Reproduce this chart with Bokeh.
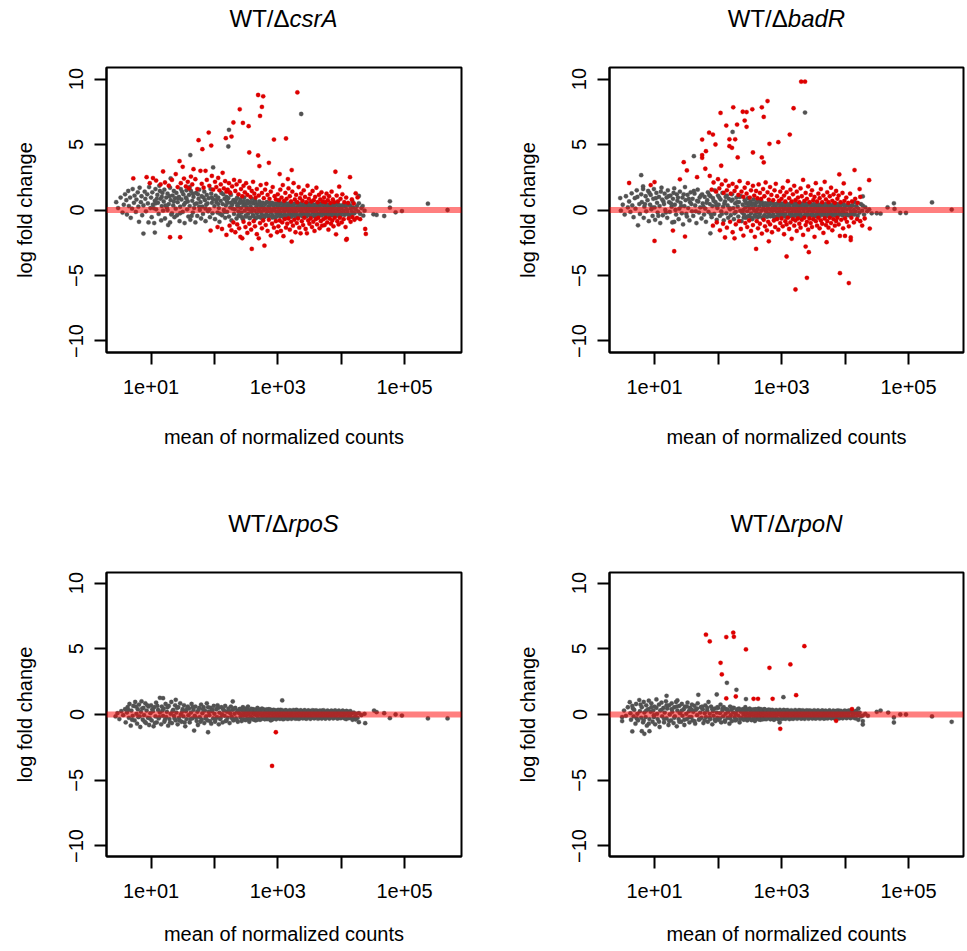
from bokeh.plotting import figure
from bokeh.models import Range1d, FixedTicker, Span, Div
from bokeh.layouts import column, row
from bokeh.embed import file_html
from bokeh.resources import INLINE

# ---------------- data: (log10 mean of normalized counts, log fold change) ----------------
csra_nonsig = [
    (0.45,0.60),(0.48,0.15),(0.52,0.95),(0.55,-0.20),(0.57,0.40),(0.59,1.20),
    (0.61,0.75),(0.62,-0.35),(0.64,1.45),(0.65,0.30),(0.67,0.95),(0.68,-0.60),(0.70,0.10),(0.71,1.60),(0.73,0.55),(0.74,1.10),(0.76,-0.15),(0.77,0.80),(0.79,1.35),
    (0.80,0.25),(0.81,-0.90),(0.82,1.70),(0.84,0.60),(0.85,1.05),(0.86,-0.40),(0.88,-1.80),(0.88,0.35),(0.90,1.40),(0.91,0.85),(0.92,-0.10),(0.94,1.20),(0.95,0.50),(0.96,-0.95),(0.97,1.75),(0.99,0.15),
    (1.00,0.95),(1.01,-0.55),(1.02,1.35),(1.03,0.40),(1.05,-1.00),(1.06,0.70),(1.06,-1.72),(1.07,1.60),(1.08,0.05),(1.10,1.15),(1.11,0.55),(1.12,-0.30),(1.13,1.85),(1.15,0.85),(1.16,-0.80),(1.17,0.30),(1.18,1.30),(1.19,-0.05),
    (1.20,0.65),(1.21,1.55),(1.22,-0.65),(1.24,0.95),(1.25,0.20),(1.26,1.25),(1.27,-1.15),(1.28,0.45),(1.30,1.70),(1.30,-0.95),(1.31,0.75),(1.31,2.41),(1.33,-0.25),(1.34,1.10),(1.35,0.35),(1.36,1.45),(1.37,-0.55),(1.38,0.90),(1.39,0.10),
    (1.40,1.30),(1.41,-0.40),(1.42,0.60),(1.44,1.00),(1.45,-0.85),(1.46,0.25),(1.47,1.60),(1.48,0.80),(1.50,-0.15),(1.51,1.20),(1.52,0.40),(1.53,-1.00),(1.55,0.95),(1.56,1.50),(1.57,0.05),(1.58,0.65),(1.59,-0.50),
    (1.60,1.15),(1.61,0.30),(1.62,-0.75),(1.62,4.19),(1.63,1.45),(1.65,0.70),(1.66,-0.20),(1.67,1.00),(1.68,0.15),(1.70,-0.95),(1.71,1.30),(1.72,0.50),(1.73,-0.45),(1.75,0.85),(1.76,1.55),(1.77,0.00),(1.78,0.60),(1.79,-0.65),
    (1.80,1.05),(1.81,0.25),(1.82,-0.30),(1.84,1.40),(1.85,0.75),(1.86,-0.85),(1.87,0.40),(1.88,1.15),(1.90,-0.10),(1.91,0.90),(1.92,0.05),(1.93,-0.55),(1.95,1.25),(1.96,0.55),(1.97,-0.25),(1.98,0.80),(1.98,3.25),
    (2.00,0.30),(2.01,-0.70),(2.02,1.10),(2.03,0.60),(2.05,-0.20),(2.06,0.95),(2.07,0.15),(2.08,-0.90),(2.10,0.70),(2.11,1.30),(2.12,-0.40),(2.13,0.45),(2.15,0.00),(2.16,0.85),(2.17,-0.60),(2.18,0.35),(2.19,1.00),
    (2.20,-0.15),(2.21,0.55),(2.22,0.90),(2.22,4.85),(2.23,-0.50),(2.23,6.12),(2.25,0.20),(2.26,1.15),(2.27,-0.80),(2.28,0.40),(2.30,0.75),(2.31,-0.30),(2.32,0.05),(2.33,0.60),(2.35,-0.65),(2.36,0.95),(2.37,0.25),(2.38,-0.10),(2.39,0.50),
    (2.40,-0.45),(2.41,0.80),(2.42,0.15),(2.43,-0.20),(2.44,0.55),(2.45,-0.70),(2.46,0.35),(2.47,0.95),(2.48,-0.05),(2.49,0.45),(2.50,-0.50),(2.51,0.20),(2.52,0.70),(2.53,-0.30),(2.54,0.05),(2.55,0.60),(2.56,-0.60),(2.57,0.30),(2.58,-0.15),(2.59,0.85),
    (2.60,0.10),(2.61,-0.40),(2.62,0.50),(2.63,-0.05),(2.64,0.75),(2.65,-0.65),(2.66,0.25),(2.67,-0.25),(2.68,0.40),(2.69,0.00),(2.70,-0.50),(2.71,0.65),(2.72,0.15),(2.73,-0.15),(2.74,0.35),(2.75,-0.35),(2.76,0.55),(2.77,-0.05),(2.78,0.20),(2.79,-0.55),
    (2.80,0.45),(2.81,0.05),(2.82,-0.30),(2.83,0.60),(2.84,-0.10),(2.85,0.25),(2.86,-0.45),(2.87,0.15),(2.88,0.40),(2.89,-0.20),(2.90,0.00),(2.91,0.55),(2.92,-0.40),(2.93,0.30),(2.94,-0.05),(2.95,0.10),(2.96,-0.60),(2.97,0.45),(2.98,-0.25),(2.99,0.20),
    (3.00,-0.10),(3.01,0.35),(3.02,-0.35),(3.03,0.05),(3.04,0.50),(3.05,-0.20),(3.06,0.20),(3.07,-0.45),(3.08,0.10),(3.09,0.40),(3.10,-0.05),(3.11,-0.30),(3.12,0.25),(3.13,0.00),(3.14,-0.50),(3.15,0.45),(3.16,0.15),(3.17,-0.15),(3.18,0.30),(3.19,-0.25),
    (3.20,0.05),(3.21,0.40),(3.22,-0.40),(3.23,0.15),(3.24,-0.10),(3.25,0.30),(3.26,-0.30),(3.27,0.00),(3.28,0.50),(3.29,-0.20),(3.30,0.20),(3.31,-0.45),(3.32,0.10),(3.33,0.35),(3.34,-0.05),(3.35,-0.35),(3.36,0.25),(3.37,0.05),(3.37,7.33),(3.38,-0.15),(3.39,0.40),
    (3.40,-0.25),(3.41,0.10),(3.42,0.35),(3.43,-0.40),(3.44,0.00),(3.45,0.20),(3.46,-0.15),(3.47,0.45),(3.48,-0.30),(3.49,0.15),(3.50,-0.05),(3.51,0.30),(3.52,-0.45),(3.53,0.05),(3.54,0.25),(3.55,-0.20),(3.56,0.40),(3.57,-0.10),(3.58,0.10),(3.59,-0.35),
    (3.60,0.20),(3.61,-0.05),(3.62,0.35),(3.63,-0.30),(3.64,0.05),(3.65,0.25),(3.66,-0.40),(3.67,0.10),(3.68,-0.15),(3.69,0.40),(3.70,-0.25),(3.71,0.00),(3.72,0.30),(3.73,-0.10),(3.74,0.15),(3.75,-0.35),(3.76,0.20),(3.77,-0.05),(3.78,0.35),(3.79,-0.20),
    (3.80,0.05),(3.81,-0.30),(3.82,0.25),(3.83,0.00),(3.84,-0.15),(3.85,0.40),(3.86,-0.40),(3.87,0.15),(3.88,-0.05),(3.89,0.30),(3.90,-0.25),(3.92,0.10),(3.93,0.45),(3.94,-0.10),(3.96,0.20),(3.97,-0.35),(3.98,0.05),(3.99,0.30),
    (4.00,-0.20),(4.01,0.15),(4.03,0.35),(4.04,-0.05),(4.06,-0.30),(4.07,0.25),(4.09,0.05),(4.10,-0.15),(4.12,0.40),(4.13,-0.40),(4.15,0.10),(4.17,-0.10),(4.18,0.63),(4.19,0.20),
    (4.21,-0.25),(4.23,0.05),(4.25,0.30),(4.27,-0.13),(4.28,1.07),(4.28,0.51),(4.30,-0.30),(4.32,0.15),(4.34,0.30),(4.35,-0.43),(4.37,-0.05),
    (4.51,-0.33),(4.56,-0.38),(4.68,-0.46),(4.77,0.66),(4.77,0.18),(4.86,-0.18),(4.96,-0.08),(5.37,0.48),(5.68,0.00),
    (1.04,0.15),(1.09,0.85),(1.14,1.45),(1.23,0.35),(1.29,1.05),(1.32,-0.35),(1.43,0.90),(1.49,1.40),(1.54,0.55),(1.61,1.75),(1.64,-0.45),(1.69,0.45),(1.74,1.20),(1.83,0.95),(1.89,0.50),(1.94,1.60),(2.04,0.80),(2.09,-0.30),(2.14,1.20),(2.20,0.65),(2.24,1.35),(2.29,0.10),(2.34,0.80),(2.38,-0.40),
    (1.07,0.50),(1.17,1.00),(1.26,0.00),(1.36,0.65),(1.46,-0.25),(1.56,0.85),(1.66,1.25),(1.76,0.25),(1.86,0.10),(1.96,0.95),(2.06,0.45),(2.16,-0.15),(2.26,0.55),(2.36,0.35),
    (2.405,0.62),(2.435,-0.55),(2.465,0.68),(2.495,-0.42),(2.525,0.50),(2.555,-0.62),(2.585,0.58),(2.615,-0.48),(2.645,0.62),(2.675,-0.55),(2.705,0.45),(2.735,-0.60),(2.765,0.52),(2.795,-0.45),(2.825,0.58),(2.855,-0.50),(2.885,0.55),(2.915,-0.58),(2.945,0.48),(2.975,-0.52),
    (3.005,0.55),(3.035,-0.50),(3.065,0.48),(3.095,-0.55),(3.125,0.52),(3.155,-0.42),(3.185,0.50),(3.215,-0.52),(3.245,0.45),(3.275,-0.50),(3.305,0.52),(3.335,-0.45),(3.365,0.48),(3.395,-0.50),(3.425,0.42),(3.455,-0.48),(3.485,0.50),(3.515,-0.42),(3.545,0.45),(3.575,-0.48),
    (3.605,0.42),(3.635,-0.45),(3.665,0.48),(3.695,-0.40),(3.725,0.45),(3.755,-0.45),(3.785,0.40),(3.815,-0.42),(3.845,0.45),(3.875,-0.38),(3.905,0.40),(3.935,-0.42),(3.965,0.38),(3.995,-0.40),(4.025,0.35),(4.055,-0.38),(4.085,0.40),(4.115,-0.35),(4.145,0.32),(4.175,-0.30),
]
csra_sig = [
    (0.72,2.41),(0.93,2.51),(1.03,2.44),(0.98,2.05),(1.08,2.25),(1.15,1.95),(1.19,2.94),(1.22,2.10),(1.28,1.85),(1.39,2.74),(1.33,2.30),(1.45,3.73),(1.50,3.30),(1.42,1.75),(1.47,2.05),
    (1.52,2.40),(1.55,1.80),(1.58,2.15),(1.60,1.65),(1.63,2.55),(1.67,3.12),(1.65,1.95),(1.70,2.35),(1.73,1.60),(1.75,5.33),(1.78,2.99),(1.81,4.64),(1.80,2.00),(1.83,1.70),(1.86,2.99),(1.88,2.30),(1.91,5.91),(1.92,1.85),(1.95,4.92),(1.96,2.60),(1.98,1.55),(2.01,2.15),(2.03,1.75),(2.06,2.45),(2.08,1.50),(2.10,1.95),(2.13,2.84),(2.15,1.65),(2.17,2.20),(2.19,1.40),
    (1.30,-2.08),(1.46,-2.08),(1.94,-1.57),(2.05,-1.30),(2.12,-1.45),
    (2.18,5.48),(2.27,5.61),(2.30,6.68),(2.40,7.69),(2.45,6.65),(2.54,6.40),(2.55,4.39),(2.69,4.16),(2.69,8.78),(2.77,8.68),(2.75,7.87),(2.72,7.18),(2.71,3.35),(2.86,3.60),(2.94,5.38),
    (2.21,1.55),(2.23,2.05),(2.25,1.30),(2.28,1.80),(2.31,2.30),(2.33,1.45),(2.35,1.95),(2.38,1.20),(2.40,2.20),(2.42,1.60),(2.44,1.05),(2.46,1.85),(2.48,1.35),(2.50,2.05),(2.52,1.15),(2.55,1.70),(2.57,1.00),(2.59,1.45),(2.61,2.15),(2.63,1.25),(2.65,0.95),(2.67,1.60),(2.70,1.10),(2.73,1.90),(2.75,1.30),(2.78,0.90),(2.80,1.55),(2.82,2.00),(2.84,1.15),(2.87,0.85),(2.89,1.40),(2.92,1.75),(2.95,1.05),(2.97,0.80),
    (2.19,-1.90),(2.24,-1.20),(2.27,-1.55),(2.30,-0.95),(2.33,-1.70),(2.36,-1.10),(2.39,-1.40),(2.41,-2.05),(2.44,-2.16),(2.46,-0.90),(2.49,-1.30),(2.52,-1.75),(2.55,-1.05),(2.58,-1.50),(2.59,-2.97),(2.62,-0.85),(2.64,-1.25),(2.67,-1.85),(2.70,-2.16),(2.72,-1.00),(2.75,-1.40),(2.77,-0.80),(2.79,-2.72),(2.81,-1.15),(2.84,-1.60),(2.86,-0.75),(2.89,-1.95),(2.91,-1.05),(2.94,-1.35),(2.97,-0.85),(2.99,-1.70),
    (3.03,2.74),(3.13,5.46),(3.16,2.36),(3.22,3.05),(3.31,8.98),
    (3.00,1.20),(3.02,0.75),(3.04,1.55),(3.06,0.95),(3.08,1.90),(3.10,0.70),(3.12,1.30),(3.14,0.85),(3.17,1.65),(3.19,1.05),(3.21,0.65),(3.23,1.40),(3.25,2.05),(3.27,0.80),(3.29,1.15),(3.31,0.60),(3.33,1.75),(3.35,0.90),(3.37,1.25),(3.39,0.70),(3.41,1.50),(3.43,1.00),(3.45,0.60),(3.47,1.85),(3.49,0.85),(3.51,1.20),(3.53,0.65),(3.55,1.45),(3.57,0.75),(3.59,1.00),(3.61,1.70),(3.63,0.60),(3.65,1.15),(3.67,0.80),(3.69,1.35),(3.71,0.65),
    (3.01,-1.25),(3.03,-0.80),(3.05,-1.60),(3.07,-0.95),(3.09,-2.00),(3.11,-0.70),(3.13,-1.35),(3.15,-1.05),(3.17,-0.65),(3.19,-1.50),(3.21,-0.90),(3.22,-2.41),(3.24,-1.20),(3.26,-0.75),(3.28,-1.70),(3.30,-1.00),(3.32,-0.65),(3.34,-1.35),(3.36,-1.78),(3.38,-0.85),(3.40,-1.15),(3.42,-0.60),(3.44,-1.45),(3.46,-1.78),(3.48,-0.80),(3.50,-1.05),(3.52,-0.65),(3.54,-1.30),(3.56,-0.90),(3.58,-1.60),(3.60,-0.70),(3.62,-1.10),(3.64,-0.60),(3.66,-1.40),(3.68,-0.85),(3.70,-1.20),
    (3.73,0.95),(3.75,0.60),(3.77,1.25),(3.79,0.75),(3.81,1.05),(3.83,0.55),(3.85,1.40),(3.87,0.80),(3.89,0.60),(3.91,2.92),(3.93,1.10),(3.95,0.65),(3.97,1.78),(3.99,0.85),(4.02,1.20),(4.05,0.60),(4.08,0.95),(4.11,0.55),(4.14,2.51),(4.17,0.80),(4.20,0.50),(4.23,1.27),(4.26,0.96),
    (3.72,-0.70),(3.74,-1.15),(3.76,-0.60),(3.78,-0.95),(3.80,-1.50),(3.82,-0.65),(3.84,-1.05),(3.86,-0.80),(3.88,-1.25),(3.90,-0.60),(3.92,-1.86),(3.94,-0.85),(3.96,-1.10),(3.98,-0.60),(4.01,-0.95),(4.04,-0.70),(4.07,-1.30),(4.08,-2.28),(4.09,-2.21),(4.12,-0.65),(4.15,-0.90),(4.18,-0.55),(4.21,-0.75),(4.25,-0.60),(4.30,-0.70),(4.38,-1.45),(4.39,-1.83),
]

badr_nonsig = [
    (0.46,0.91),(0.47,-0.05),(0.50,0.40),(0.53,-0.35),(0.55,1.05),(0.58,0.20),
    (0.60,0.65),(0.62,-0.15),(0.64,1.27),(0.65,0.35),(0.67,-0.55),(0.69,0.90),(0.70,0.10),(0.72,1.50),(0.73,1.00),(0.74,-1.17),(0.76,0.45),(0.77,-0.30),(0.79,2.66),(0.79,1.20),
    (0.80,0.60),(0.82,1.80),(0.82,1.60),(0.83,-0.60),(0.84,0.25),(0.86,1.05),(0.87,-0.10),(0.89,0.75),(0.90,1.45),(0.91,-0.85),(0.93,0.40),(0.94,1.15),(0.95,0.05),(0.97,-0.45),(0.98,0.85),(0.99,1.60),
    (1.00,0.20),(1.01,-0.75),(1.03,1.30),(1.04,0.55),(1.05,-0.20),(1.07,1.00),(1.08,0.30),(1.09,-1.00),(1.11,1.70),(1.12,0.80),(1.13,-0.40),(1.15,0.45),(1.16,1.25),(1.17,0.00),(1.19,0.95),
    (1.20,-0.60),(1.21,1.50),(1.23,0.60),(1.24,-0.15),(1.25,1.10),(1.27,0.25),(1.28,-0.95),(1.29,0.85),(1.31,-0.91),(1.31,1.65),(1.32,0.40),(1.34,-0.35),(1.35,1.20),(1.36,0.70),(1.38,-0.70),(1.39,0.10),
    (1.40,1.40),(1.41,0.55),(1.43,-0.25),(1.44,0.95),(1.45,-1.10),(1.47,0.30),(1.48,1.75),(1.49,0.75),(1.51,-0.50),(1.52,1.15),(1.53,0.15),(1.55,-0.80),(1.56,0.60),(1.57,1.35),(1.59,-0.10),
    (1.60,0.85),(1.61,-0.45),(1.62,4.11),(1.63,1.25),(1.64,0.35),(1.66,-1.00),(1.67,0.70),(1.68,1.55),(1.70,-0.20),(1.71,0.95),(1.72,0.20),(1.74,-0.65),(1.75,1.20),(1.76,0.50),(1.78,-0.35),(1.79,1.00),
    (1.80,0.10),(1.81,-0.90),(1.83,0.75),(1.84,1.35),(1.85,-0.15),(1.87,0.45),(1.88,-1.78),(1.88,1.05),(1.90,-0.55),(1.91,0.30),(1.92,0.90),(1.94,-0.30),(1.95,1.50),(1.96,0.60),(1.98,-0.75),(1.99,0.15),
    (2.00,1.10),(2.01,0.40),(2.03,-0.45),(2.04,0.80),(2.05,-0.10),(2.07,1.30),(2.08,0.25),(2.09,-0.80),(2.11,0.65),(2.12,1.00),(2.13,-0.25),(2.15,0.35),(2.16,-0.60),(2.17,0.85),(2.19,0.05),
    (2.20,-0.40),(2.21,0.70),(2.22,1.20),(2.23,5.96),(2.24,0.15),(2.25,-0.70),(2.27,0.50),(2.28,-0.15),(2.29,0.95),(2.31,0.25),(2.32,-0.50),(2.33,0.60),(2.35,-0.05),(2.36,1.05),(2.37,-0.85),(2.39,0.40),
    (2.40,0.00),(2.41,-0.35),(2.42,0.75),(2.43,0.20),(2.44,-0.60),(2.45,0.50),(2.46,-0.10),(2.47,0.90),(2.48,0.30),(2.49,-0.45),(2.50,0.10),(2.51,0.65),(2.52,-0.25),(2.53,0.40),(2.54,-0.70),(2.55,0.15),(2.56,0.80),(2.57,-0.05),(2.58,-0.40),(2.59,0.35),
    (2.60,0.55),(2.61,-0.20),(2.62,0.05),(2.63,-0.55),(2.64,0.70),(2.65,0.25),(2.66,-0.30),(2.67,0.45),(2.68,-0.05),(2.69,0.60),(2.70,-0.60),(2.71,0.15),(2.72,0.35),(2.73,-0.40),(2.74,0.00),(2.75,0.50),(2.76,-0.15),(2.77,0.30),(2.78,-0.50),(2.79,0.10),
    (2.80,-0.25),(2.81,0.40),(2.82,0.05),(2.83,-0.45),(2.84,0.55),(2.85,-0.10),(2.86,0.20),(2.87,-0.35),(2.88,0.45),(2.89,0.00),(2.90,-0.55),(2.91,0.30),(2.92,0.10),(2.93,-0.20),(2.94,0.50),(2.95,-0.40),(2.96,0.15),(2.97,-0.05),(2.98,0.35),(2.99,-0.30),
    (3.00,0.20),(3.01,-0.15),(3.02,0.45),(3.03,-0.40),(3.04,0.05),(3.05,0.30),(3.06,-0.25),(3.07,0.10),(3.08,-0.50),(3.09,0.40),(3.10,0.00),(3.11,-0.10),(3.12,0.25),(3.13,-0.35),(3.14,0.15),(3.15,0.50),(3.16,-0.20),(3.17,0.05),(3.18,-0.45),(3.19,0.30),
    (3.20,-0.05),(3.21,0.35),(3.22,-0.30),(3.23,0.10),(3.24,0.45),(3.25,-0.15),(3.26,0.20),(3.27,-0.40),(3.28,0.00),(3.29,0.30),(3.30,-0.25),(3.31,0.15),(3.32,-0.50),(3.33,0.40),(3.34,0.05),(3.35,-0.10),(3.36,0.25),(3.37,7.44),(3.38,-0.35),(3.39,0.10),
    (3.40,0.35),(3.41,-0.20),(3.42,0.05),(3.43,0.45),(3.44,-0.40),(3.45,0.15),(3.46,-0.05),(3.47,0.30),(3.48,-0.30),(3.49,0.00),(3.50,0.40),(3.51,-0.15),(3.52,0.20),(3.53,-0.45),(3.54,0.10),(3.55,0.35),(3.56,-0.25),(3.57,0.05),(3.58,-0.10),(3.59,0.25),
    (3.60,-0.35),(3.61,0.15),(3.62,0.40),(3.63,-0.10),(3.64,0.20),(3.65,-0.30),(3.66,0.05),(3.67,0.35),(3.68,-0.20),(3.69,0.10),(3.70,-0.45),(3.71,0.25),(3.72,0.00),(3.73,-0.15),(3.74,0.45),(3.75,-0.30),(3.76,0.15),(3.77,-0.05),(3.78,0.30),(3.79,-0.25),
    (3.80,0.10),(3.81,0.35),(3.82,-0.35),(3.83,0.00),(3.84,0.20),(3.85,-0.15),(3.86,0.40),(3.87,-0.40),(3.88,0.05),(3.89,0.25),(3.90,-0.10),(3.92,0.30),(3.93,-0.30),(3.94,0.15),(3.96,-0.05),(3.97,0.45),(3.98,-0.20),(3.99,0.10),
    (4.00,0.30),(4.02,-0.25),(4.03,0.05),(4.05,0.40),(4.06,-0.40),(4.08,0.15),(4.09,-0.10),(4.11,0.35),(4.12,-0.30),(4.14,0.00),(4.15,0.60),(4.17,-0.15),(4.18,0.25),(4.20,-0.45),
    (4.21,0.10),(4.23,-0.20),(4.25,0.45),(4.27,-0.05),(4.28,1.04),(4.28,0.33),(4.30,-0.35),(4.32,0.20),(4.35,-0.10),(4.38,0.05),(4.42,-0.25),
    (4.50,-0.25),(4.56,-0.28),(4.67,0.20),(4.77,0.51),(4.78,0.08),(4.87,-0.23),(4.96,-0.23),(5.37,0.58),(5.68,0.03),
    (0.85,0.45),(0.92,1.30),(0.96,0.20),(1.02,0.90),(1.06,-0.45),(1.10,1.40),(1.14,0.65),(1.18,-0.20),(1.22,1.05),(1.26,0.50),(1.30,1.30),(1.33,0.00),(1.37,0.95),(1.42,0.30),(1.46,1.20),(1.50,-0.30),(1.54,0.85),(1.58,0.45),(1.62,1.45),(1.65,-0.10),
    (1.69,0.65),(1.73,1.10),(1.77,0.25),(1.82,0.55),(1.86,1.15),(1.89,-0.35),(1.93,0.70),(1.97,0.35),(2.02,0.95),(2.06,-0.30),(2.10,0.50),(2.14,1.10),(2.18,0.15),(2.23,0.80),(2.26,-0.25),(2.30,0.60),(2.34,1.00),(2.38,-0.20),
    (2.405,-0.58),(2.435,0.62),(2.465,-0.50),(2.495,0.55),(2.525,-0.60),(2.555,0.48),(2.585,-0.52),(2.615,0.65),(2.645,-0.45),(2.675,0.52),(2.705,-0.58),(2.735,0.48),(2.765,-0.50),(2.795,0.55),(2.825,-0.48),(2.855,0.50),(2.885,-0.55),(2.915,0.45),(2.945,-0.50),(2.975,0.55),
    (3.005,-0.48),(3.035,0.50),(3.065,-0.52),(3.095,0.45),(3.125,-0.48),(3.155,0.52),(3.185,-0.45),(3.215,0.48),(3.245,-0.50),(3.275,0.45),(3.305,-0.48),(3.335,0.50),(3.365,-0.42),(3.395,0.48),(3.425,-0.45),(3.455,0.50),(3.485,-0.42),(3.515,0.45),(3.545,-0.48),(3.575,0.42),
    (3.605,-0.45),(3.635,0.48),(3.665,-0.40),(3.695,0.45),(3.725,-0.42),(3.755,0.40),(3.785,-0.45),(3.815,0.42),(3.845,-0.40),(3.875,0.45),(3.905,-0.38),(3.935,0.40),(3.965,-0.42),(3.995,0.38),(4.025,-0.40),(4.055,0.35),(4.085,-0.38),(4.115,0.32),(4.145,-0.35),(4.175,0.30),
]
badr_sig = [
    (3.31,9.80),(3.37,9.80),(2.78,8.32),(2.69,7.84),(2.72,7.11),(2.54,7.69),(2.24,7.84),(2.04,7.41),(2.39,7.50),(2.45,7.48),(2.42,6.83),(2.45,6.35),(2.30,6.52),(2.13,6.45),(1.86,5.90),(1.92,5.76),(1.75,5.38),(2.18,5.40),(2.27,5.40),(2.18,4.87),(2.22,4.75),(1.96,5.00),(1.81,4.49),(1.75,4.19),(1.75,3.98),(1.46,3.65),(1.51,3.02),(2.31,4.01),(2.55,4.39),(2.69,4.01),(2.72,3.63),(2.81,5.05),(2.95,5.18),(3.13,5.76),(3.19,7.77),(1.80,3.15),(2.05,3.38),(1.67,2.51),(1.40,2.34),(1.87,2.60),(3.91,2.72),(4.15,3.05),(3.98,2.03),(4.38,2.28),(4.23,1.60),(0.60,2.06),(1.00,2.13),(0.94,1.90),
    (3.22,-6.07),(3.40,-5.18),(4.06,-5.58),(3.92,-4.82),(3.08,-3.55),(3.38,-2.79),(3.43,-3.22),(2.60,-2.97),(1.31,-3.15),(1.00,-2.36),(1.48,-2.03),(1.29,-1.57),(3.71,-2.46),(4.09,-2.30),(4.09,-2.10),(4.00,-1.98),(3.92,-1.98),(4.27,-1.19),(4.39,-1.42),(2.80,-2.39),(2.11,-2.10),(2.26,-2.16),
    (1.90,1.55),(1.93,2.10),(1.97,1.40),(2.00,2.35),(2.02,1.65),(2.06,1.95),(2.09,1.30),(2.12,2.25),(2.14,1.50),(2.17,1.85),(2.20,1.25),(2.23,2.00),(2.26,1.45),(2.29,1.75),(2.32,1.15),(2.34,2.20),(2.37,1.40),(2.40,1.00),(2.42,1.70),(2.45,1.25),(2.47,2.05),(2.50,0.95),(2.52,1.50),(2.55,1.85),(2.57,1.10),(2.60,1.45),(2.62,0.90),(2.64,1.95),(2.66,1.30),(2.68,0.85),(2.71,1.60),(2.73,1.05),(2.75,2.10),(2.78,1.35),(2.80,0.80),(2.82,1.75),(2.84,1.15),(2.87,0.75),(2.89,1.50),(2.91,2.00),(2.93,1.05),(2.96,0.70),(2.98,1.40),
    (3.00,0.85),(3.02,1.70),(3.04,1.10),(3.06,0.65),(3.08,1.35),(3.10,2.20),(3.12,0.90),(3.14,1.55),(3.16,0.65),(3.18,1.20),(3.20,1.85),(3.22,0.75),(3.24,1.40),(3.26,0.95),(3.28,0.60),(3.30,1.65),(3.32,1.05),(3.34,2.30),(3.36,0.70),(3.38,1.30),(3.40,0.85),(3.42,1.80),(3.44,0.60),(3.46,1.15),(3.48,1.50),(3.50,0.75),(3.52,1.00),(3.54,2.05),(3.56,0.65),(3.58,1.25),(3.60,0.90),(3.62,1.60),(3.64,0.60),(3.66,1.10),(3.68,2.15),(3.70,0.80),(3.72,1.35),(3.74,0.60),(3.76,1.05),(3.78,1.70),(3.80,0.70),(3.82,1.20),(3.84,0.55),(3.86,1.45),(3.88,0.85),(3.90,1.10),(3.93,0.60),(3.96,1.30),(3.99,0.70),(4.02,0.95),(4.05,0.55),(4.08,1.25),(4.11,0.65),(4.16,0.85),(4.20,0.55),(4.24,1.00),
    (1.92,-1.20),(1.98,-0.95),(2.03,-1.55),(2.08,-1.05),(2.14,-1.35),(2.19,-0.90),(2.23,-1.70),(2.28,-1.10),(2.33,-0.85),(2.36,-1.45),(2.40,-1.95),(2.43,-1.00),(2.46,-1.30),(2.49,-0.80),(2.52,-1.60),(2.55,-1.15),(2.58,-2.05),(2.61,-0.85),(2.63,-1.40),(2.66,-1.05),(2.69,-1.80),(2.72,-0.75),(2.74,-1.25),(2.77,-1.55),(2.79,-0.90),(2.82,-1.10),(2.85,-1.70),(2.88,-0.80),(2.90,-1.30),(2.93,-0.70),(2.95,-1.50),(2.98,-1.00),
    (3.00,-0.65),(3.02,-1.25),(3.04,-1.85),(3.06,-0.85),(3.08,-1.10),(3.10,-0.60),(3.12,-1.45),(3.14,-0.95),(3.16,-2.20),(3.18,-0.70),(3.20,-1.20),(3.22,-0.80),(3.24,-1.60),(3.26,-0.65),(3.28,-1.05),(3.30,-1.35),(3.32,-0.75),(3.34,-1.90),(3.36,-0.60),(3.38,-1.15),(3.40,-0.90),(3.42,-1.50),(3.44,-0.65),(3.46,-1.00),(3.48,-1.30),(3.50,-0.70),(3.52,-2.05),(3.54,-0.85),(3.56,-1.20),(3.58,-0.60),(3.60,-1.40),(3.62,-0.80),(3.64,-1.05),(3.66,-1.75),(3.68,-0.65),(3.70,-1.15),(3.72,-0.85),(3.74,-1.35),(3.76,-0.60),(3.78,-1.00),(3.80,-1.55),(3.82,-0.70),(3.84,-1.20),(3.86,-0.85),(3.88,-0.60),(3.90,-1.10),(3.94,-0.75),(3.97,-1.40),(4.00,-0.65),(4.03,-0.90),(4.06,-1.25),(4.10,-0.60),(4.14,-0.95),(4.19,-0.70),(4.24,-0.85),(4.31,-0.65),
]

rpos_nonsig = [
    (0.44,-0.15),(0.47,0.10),(0.50,-0.35),(0.53,0.25),(0.56,-0.05),(0.59,0.40),
    (0.60,-0.60),(0.62,0.15),(0.63,0.55),(0.65,-0.25),(0.66,0.80),(0.68,-0.85),(0.69,0.30),(0.71,-0.10),(0.72,0.65),(0.74,-0.45),(0.75,0.95),(0.77,0.05),(0.78,-0.70),(0.79,0.40),
    (0.80,-0.20),(0.81,0.75),(0.83,-0.95),(0.84,0.20),(0.85,1.00),(0.87,-0.40),(0.88,0.50),(0.89,-0.05),(0.91,0.85),(0.92,-0.65),(0.93,0.30),(0.95,-0.25),(0.96,0.60),(0.97,-0.80),(0.99,0.10),
    (1.00,0.70),(1.01,-0.45),(1.03,0.25),(1.04,-0.90),(1.05,0.55),(1.07,-0.15),(1.08,0.90),(1.09,-0.60),(1.11,0.35),(1.12,-0.30),(1.14,1.27),(1.14,0.15),(1.16,-0.75),(1.17,0.60),(1.19,1.24),(1.19,-0.10),
    (1.20,0.45),(1.21,-0.55),(1.23,0.80),(1.24,-0.20),(1.25,0.20),(1.27,-0.85),(1.28,0.65),(1.29,-0.35),(1.31,0.05),(1.32,0.95),(1.33,-0.65),(1.35,0.35),(1.36,-0.10),(1.38,0.70),(1.39,1.12),(1.39,-0.45),
    (1.40,0.15),(1.42,-0.75),(1.43,0.55),(1.44,-0.25),(1.46,0.85),(1.47,0.00),(1.48,-0.55),(1.50,0.40),(1.51,-0.15),(1.52,0.70),(1.54,-0.90),(1.55,0.25),(1.56,-0.35),(1.58,0.60),(1.59,-0.05),
    (1.60,0.45),(1.61,-0.60),(1.63,0.15),(1.64,0.80),(1.65,-0.30),(1.67,0.35),(1.68,-1.22),(1.69,-0.10),(1.70,0.60),(1.72,-0.50),(1.73,0.20),(1.74,-0.80),(1.76,0.50),(1.77,-0.20),(1.79,0.75),
    (1.80,-0.40),(1.81,0.10),(1.83,0.55),(1.84,-0.65),(1.85,0.30),(1.87,-0.15),(1.88,0.85),(1.89,-0.45),(1.90,-1.35),(1.91,0.20),(1.92,-0.05),(1.94,0.50),(1.95,-0.70),(1.96,0.25),(1.98,-0.30),(1.99,0.65),
    (2.00,0.05),(2.01,-0.55),(2.03,0.40),(2.04,-0.20),(2.05,0.70),(2.07,-0.75),(2.08,0.15),(2.09,-0.35),(2.11,0.55),(2.12,0.00),(2.13,-0.60),(2.15,0.30),(2.16,-0.10),(2.17,0.65),(2.19,-0.45),
    (2.20,0.20),(2.21,-0.25),(2.22,0.45),(2.24,-0.65),(2.25,0.10),(2.26,0.60),(2.27,-0.15),(2.29,0.99),(2.29,0.35),(2.30,-0.45),(2.32,0.05),(2.33,0.50),(2.34,-0.30),(2.36,0.25),(2.37,-0.55),(2.39,0.10),
    (2.40,0.40),(2.41,-0.20),(2.42,0.00),(2.43,-0.50),(2.44,0.30),(2.45,0.55),(2.46,-0.10),(2.47,0.15),(2.48,-0.40),(2.49,0.45),(2.50,-0.05),(2.51,0.25),(2.52,-0.30),(2.53,0.60),(2.54,0.05),(2.55,-0.55),(2.56,0.20),(2.57,-0.15),(2.58,0.35),(2.59,-0.25),
    (2.60,0.10),(2.61,0.40),(2.62,-0.35),(2.63,0.00),(2.64,0.25),(2.65,-0.45),(2.66,0.15),(2.67,-0.10),(2.68,0.50),(2.69,-0.25),(2.70,0.05),(2.71,0.30),(2.72,-0.40),(2.73,0.20),(2.74,-0.05),(2.75,0.45),(2.76,-0.30),(2.77,0.10),(2.78,-0.15),(2.79,0.35),
    (2.80,-0.20),(2.81,0.05),(2.82,0.30),(2.83,-0.35),(2.84,0.15),(2.85,-0.05),(2.86,0.40),(2.87,-0.25),(2.88,0.10),(2.89,-0.45),(2.90,0.25),(2.91,0.00),(2.92,-0.15),(2.93,0.35),(2.94,-0.30),(2.95,0.15),(2.96,-0.05),(2.97,0.30),(2.98,-0.20),(2.99,0.05),
    (3.00,0.25),(3.01,-0.15),(3.02,0.10),(3.03,-0.30),(3.04,0.35),(3.05,0.00),(3.06,-0.20),(3.07,1.07),(3.07,0.15),(3.08,-0.35),(3.09,0.25),(3.10,-0.05),(3.11,0.10),(3.12,-0.25),(3.13,0.30),(3.14,0.05),(3.15,-0.15),(3.16,0.20),(3.17,-0.30),(3.18,0.10),(3.19,-0.05),
    (3.20,0.30),(3.21,-0.10),(3.22,0.15),(3.23,-0.25),(3.24,0.05),(3.25,0.25),(3.26,-0.20),(3.27,0.10),(3.28,-0.05),(3.29,0.35),(3.30,-0.30),(3.31,0.00),(3.32,0.20),(3.33,-0.15),(3.34,0.10),(3.35,-0.25),(3.36,0.30),(3.37,-0.05),(3.38,0.15),(3.39,-0.20),
    (3.40,0.05),(3.41,0.25),(3.42,-0.15),(3.43,0.10),(3.44,-0.30),(3.45,0.20),(3.46,0.00),(3.47,-0.10),(3.48,0.30),(3.49,-0.20),(3.50,0.10),(3.51,-0.05),(3.52,0.25),(3.53,-0.25),(3.54,0.05),(3.55,0.15),(3.56,-0.15),(3.57,0.30),(3.58,-0.05),(3.59,0.10),
    (3.60,-0.20),(3.61,0.15),(3.62,0.00),(3.63,0.25),(3.64,-0.15),(3.65,0.05),(3.66,-0.25),(3.67,0.20),(3.68,-0.05),(3.69,0.10),(3.70,0.30),(3.71,-0.20),(3.72,0.05),(3.73,-0.10),(3.74,0.20),(3.75,-0.30),(3.76,0.15),(3.77,0.00),(3.78,-0.15),(3.79,0.25),
    (3.80,-0.05),(3.81,0.10),(3.82,-0.25),(3.83,0.20),(3.84,0.00),(3.85,-0.15),(3.86,0.25),(3.87,-0.10),(3.88,0.05),(3.89,0.15),(3.90,-0.20),(3.91,0.10),(3.92,-0.05),(3.93,0.20),(3.95,-0.30),(3.96,0.05),(3.98,0.15),(3.99,-0.10),
    (4.00,0.10),(4.02,-0.20),(4.03,0.25),(4.05,-0.05),(4.06,0.05),(4.08,-0.35),(4.09,0.15),(4.11,-0.10),(4.12,0.20),(4.14,-0.25),(4.15,0.00),(4.17,0.10),(4.18,-0.40),(4.20,0.15),(4.22,-0.15),(4.23,-0.38),(4.24,0.05),(4.26,-0.25),(4.28,0.10),(4.28,-0.58),(4.32,-0.05),(4.37,0.05),(4.38,-0.66),
    (4.52,0.30),(4.56,0.18),(4.68,0.10),(4.77,-0.28),(4.86,0.00),(4.96,-0.08),(5.37,-0.30),(5.68,-0.30),
    (0.64,0.35),(0.70,-0.40),(0.76,0.60),(0.82,-0.15),(0.86,0.45),(0.90,-0.55),(0.94,0.70),(0.98,-0.30),(1.02,0.40),(1.06,-0.65),(1.10,0.65),(1.13,-0.20),(1.18,0.30),(1.22,-0.40),(1.26,0.55),(1.30,-0.60),(1.34,0.25),(1.37,-0.30),(1.41,0.50),(1.45,-0.45),(1.49,0.20),
    (1.53,-0.60),(1.57,0.45),(1.62,-0.35),(1.66,0.55),(1.71,-0.25),(1.75,0.35),(1.78,-0.55),(1.82,0.40),(1.86,-0.30),(1.90,0.55),(1.93,-0.50),(1.97,0.35),(2.02,-0.35),(2.06,0.50),(2.10,-0.25),(2.14,0.40),(2.18,-0.50),(2.23,0.30),(2.28,-0.30),(2.31,0.45),(2.35,-0.40),(2.38,0.30),
    (2.405,0.42),(2.435,-0.38),(2.465,0.40),(2.495,-0.42),(2.525,0.38),(2.555,-0.40),(2.585,0.42),(2.615,-0.38),(2.645,0.36),(2.675,-0.40),(2.705,0.38),(2.735,-0.35),(2.765,0.40),(2.795,-0.36),(2.825,0.38),(2.855,-0.34),(2.885,0.36),(2.915,-0.38),(2.945,0.34),(2.975,-0.36),
    (3.005,0.35),(3.035,-0.33),(3.065,0.34),(3.095,-0.35),(3.125,0.33),(3.155,-0.34),(3.185,0.32),(3.215,-0.33),(3.245,0.34),(3.275,-0.32),(3.305,0.33),(3.335,-0.34),(3.365,0.32),(3.395,-0.30),(3.425,0.33),(3.455,-0.32),(3.485,0.30),(3.515,-0.33),(3.545,0.32),(3.575,-0.30),
    (3.605,0.31),(3.635,-0.32),(3.665,0.30),(3.695,-0.31),(3.725,0.32),(3.755,-0.30),(3.785,0.30),(3.815,-0.31),(3.845,0.29),(3.875,-0.30),(3.905,0.31),(3.935,-0.29),(3.965,0.30),(3.995,-0.28),(4.025,0.29),(4.055,-0.30),(4.085,0.27),(4.115,-0.28),(4.145,0.26),(4.175,-0.27),
]
rpos_sig = [(2.97,-1.35),(2.91,-3.91)]

rpon_nonsig = [
    (0.49,-0.20),(0.49,-0.50),(0.52,0.30),(0.55,-0.10),(0.58,0.55),(0.61,0.94),
    (0.62,0.10),(0.63,-0.40),(0.65,-1.29),(0.65,0.65),(0.67,-0.15),(0.68,0.35),(0.70,-0.70),(0.71,0.80),(0.73,0.05),(0.74,-0.45),(0.76,1.10),(0.77,0.25),(0.79,-0.25),
    (0.80,-1.27),(0.80,0.55),(0.82,-0.60),(0.83,0.95),(0.84,-1.47),(0.84,0.15),(0.86,-0.20),(0.87,0.70),(0.88,-0.85),(0.90,0.40),(0.91,1.05),(0.92,-1.27),(0.92,-0.35),(0.94,0.20),(0.95,0.85),(0.97,-0.55),(0.98,0.30),(0.99,-0.05),
    (1.00,0.60),(1.01,-0.75),(1.03,1.15),(1.04,0.05),(1.05,-0.35),(1.07,0.75),(1.08,-0.95),(1.09,0.30),(1.11,0.90),(1.12,-0.15),(1.14,0.50),(1.15,-0.60),(1.16,0.15),(1.18,1.00),(1.19,1.42),(1.19,-0.30),
    (1.20,0.45),(1.22,-0.80),(1.23,0.70),(1.24,0.00),(1.26,-0.45),(1.27,0.85),(1.28,0.20),(1.30,-0.65),(1.31,0.55),(1.32,-0.15),(1.34,0.95),(1.35,-0.90),(1.36,1.07),(1.36,0.30),(1.38,-0.35),(1.39,0.65),
    (1.40,0.10),(1.42,-0.55),(1.43,0.80),(1.44,-0.10),(1.46,0.40),(1.47,-0.80),(1.48,0.60),(1.50,0.05),(1.51,-0.35),(1.52,0.90),(1.54,0.25),(1.55,-0.60),(1.56,0.50),(1.58,-0.20),(1.59,0.75),
    (1.60,-0.45),(1.61,0.20),(1.63,0.65),(1.64,-0.70),(1.65,0.35),(1.67,-0.05),(1.68,0.85),(1.69,1.50),(1.70,-0.40),(1.72,0.15),(1.73,0.55),(1.74,-0.25),(1.76,0.40),(1.77,-0.65),(1.79,0.10),
    (1.80,0.70),(1.81,-0.20),(1.83,0.30),(1.84,-0.55),(1.85,0.95),(1.87,0.05),(1.88,-0.35),(1.89,0.60),(1.91,-0.75),(1.92,0.25),(1.93,-0.10),(1.95,0.45),(1.96,-0.50),(1.98,1.52),(1.98,0.15),(1.99,-0.25),
    (2.00,0.50),(2.01,-0.40),(2.03,0.10),(2.04,0.75),(2.05,-0.60),(2.07,0.30),(2.08,-0.15),(2.09,0.55),(2.11,-0.45),(2.12,0.05),(2.13,0.40),(2.14,2.41),(2.15,-0.25),(2.16,0.20),(2.18,-0.70),(2.19,0.60),
    (2.20,-0.05),(2.21,0.35),(2.22,-0.50),(2.24,0.15),(2.25,0.50),(2.26,-0.20),(2.28,0.05),(2.29,1.88),(2.29,-0.40),(2.30,0.30),(2.32,-0.10),(2.33,0.45),(2.34,-0.60),(2.36,0.20),(2.37,-0.25),(2.39,0.40),
    (2.40,0.00),(2.41,-0.35),(2.42,0.25),(2.43,0.55),(2.44,1.17),(2.44,-0.15),(2.45,0.10),(2.46,-0.45),(2.47,0.35),(2.48,0.05),(2.49,-0.25),(2.50,0.45),(2.51,-0.05),(2.52,0.20),(2.53,-0.40),(2.54,0.30),(2.55,0.00),(2.56,-0.20),(2.57,0.15),(2.58,-0.50),(2.59,0.40),
    (2.60,-0.10),(2.61,0.25),(2.62,-0.30),(2.63,0.05),(2.64,0.45),(2.65,-0.15),(2.66,0.15),(2.67,-0.40),(2.68,0.30),(2.69,0.00),(2.70,-0.25),(2.71,0.20),(2.72,-0.05),(2.73,0.40),(2.74,-0.35),(2.75,0.10),(2.76,-0.15),(2.77,0.30),(2.78,0.05),(2.79,-0.25),
    (2.80,0.15),(2.81,-0.10),(2.82,0.35),(2.83,-0.30),(2.84,0.05),(2.85,0.20),(2.86,-0.20),(2.87,0.10),(2.88,-0.40),(2.89,0.25),(2.90,0.00),(2.91,-0.15),(2.92,0.30),(2.93,-0.05),(2.94,0.15),(2.95,-0.35),(2.96,0.10),(2.97,-0.60),(2.98,0.20),(2.99,-0.10),
    (3.00,0.05),(3.01,0.25),(3.02,-0.20),(3.03,1.32),(3.03,0.10),(3.04,-0.30),(3.05,0.20),(3.06,-0.05),(3.07,0.30),(3.08,-0.15),(3.09,0.00),(3.10,0.15),(3.11,-0.25),(3.12,0.05),(3.13,0.25),(3.14,-0.10),(3.15,0.10),(3.16,-0.30),(3.17,0.20),(3.18,-0.05),(3.19,0.15),
    (3.20,-0.20),(3.21,0.05),(3.22,0.25),(3.23,-0.10),(3.24,0.15),(3.25,-0.25),(3.26,0.00),(3.27,0.20),(3.28,-0.15),(3.29,0.10),(3.30,0.30),(3.31,-0.05),(3.32,-0.30),(3.33,0.15),(3.34,0.05),(3.35,-0.20),(3.36,0.25),(3.37,-0.05),(3.38,0.10),(3.39,-0.15),
    (3.40,0.20),(3.41,-0.10),(3.42,0.05),(3.43,0.30),(3.44,-0.25),(3.45,0.10),(3.46,-0.05),(3.47,0.20),(3.48,-0.20),(3.49,0.00),(3.50,0.25),(3.51,-0.15),(3.52,0.10),(3.53,-0.30),(3.54,0.15),(3.55,0.05),(3.56,-0.10),(3.57,0.25),(3.58,-0.20),(3.59,0.05),
    (3.60,0.15),(3.61,-0.05),(3.62,-0.25),(3.63,0.20),(3.64,0.00),(3.65,0.30),(3.66,-0.15),(3.67,0.10),(3.68,-0.30),(3.69,0.05),(3.70,0.20),(3.71,-0.10),(3.72,0.15),(3.73,-0.20),(3.74,0.00),(3.75,0.25),(3.76,-0.05),(3.77,0.10),(3.78,-0.25),(3.79,0.15),
    (3.80,0.00),(3.81,0.20),(3.82,-0.15),(3.83,0.10),(3.84,-0.30),(3.85,0.25),(3.86,-0.05),(3.87,0.15),(3.88,-0.20),(3.89,0.05),(3.90,0.30),(3.91,-0.10),(3.92,0.10),(3.93,-0.25),(3.95,0.15),(3.96,-0.05),(3.98,0.20),(3.99,-0.15),
    (4.00,0.05),(4.02,0.25),(4.03,-0.20),(4.05,0.10),(4.06,-0.05),(4.08,0.30),(4.09,-0.25),(4.11,0.15),(4.12,-0.10),(4.14,0.00),(4.15,0.20),(4.17,-0.30),(4.18,0.10),(4.20,-0.05),(4.21,0.45),(4.21,-0.40),(4.23,0.15),(4.25,-0.15),(4.28,-0.08),(4.28,-0.50),(4.28,-0.76),(4.32,0.05),(4.36,-0.10),
    (4.50,0.20),(4.56,0.30),(4.68,0.15),(4.77,-0.23),(4.77,-0.61),(4.87,0.00),(4.96,0.00),(5.37,-0.15),(5.68,-0.56),
    (0.66,0.45),(0.72,-0.30),(0.78,0.75),(0.83,-0.45),(0.87,0.30),(0.91,-0.70),(0.95,0.55),(0.99,-0.20),(1.03,0.50),(1.07,-0.55),(1.11,0.35),(1.15,-0.35),(1.19,0.70),(1.23,-0.50),(1.27,0.40),(1.31,-0.25),(1.35,0.60),(1.39,-0.55),(1.43,0.30),(1.47,-0.40),(1.51,0.60),
    (1.55,-0.20),(1.59,0.35),(1.63,-0.50),(1.67,0.45),(1.71,-0.35),(1.75,0.60),(1.79,-0.45),(1.83,0.50),(1.87,-0.25),(1.91,0.40),(1.95,-0.40),(1.99,0.55),(2.03,-0.30),(2.07,0.45),(2.11,-0.55),(2.15,0.35),(2.19,-0.30),(2.23,0.50),(2.27,-0.45),(2.31,0.40),(2.35,-0.35),(2.39,0.25),
    (2.405,-0.40),(2.435,0.42),(2.465,-0.36),(2.495,0.40),(2.525,-0.42),(2.555,0.38),(2.585,-0.40),(2.615,0.36),(2.645,-0.38),(2.675,0.40),(2.705,-0.36),(2.735,0.38),(2.765,-0.35),(2.795,0.37),(2.825,-0.36),(2.855,0.35),(2.885,-0.37),(2.915,0.34),(2.945,-0.35),(2.975,0.36),
    (3.005,-0.34),(3.035,0.35),(3.065,-0.33),(3.095,0.34),(3.125,-0.35),(3.155,0.32),(3.185,-0.33),(3.215,0.34),(3.245,-0.32),(3.275,0.33),(3.305,-0.31),(3.335,0.32),(3.365,-0.33),(3.395,0.31),(3.425,-0.32),(3.455,0.30),(3.485,-0.31),(3.515,0.32),(3.545,-0.30),(3.575,0.31),
    (3.605,-0.32),(3.635,0.30),(3.665,-0.31),(3.695,0.29),(3.725,-0.30),(3.755,0.31),(3.785,-0.29),(3.815,0.30),(3.845,-0.31),(3.875,0.29),(3.905,-0.30),(3.935,0.28),(3.965,-0.29),(3.995,0.30),(4.025,-0.28),(4.055,0.29),(4.085,-0.27),(4.115,0.28),(4.145,-0.26),(4.175,0.27),
]
rpon_sig = [
    (1.81,6.07),(1.87,5.56),(2.13,5.89),(2.24,6.22),(2.25,5.91),(2.44,4.95),(3.36,5.20),(2.04,3.93),(2.06,3.05),(2.81,3.55),(3.14,3.81),(3.23,1.47),(2.28,1.37),(2.13,1.22),(2.56,1.19),(2.63,1.19),(2.86,1.19),(2.98,-1.09),(4.11,0.41),(3.86,-0.48),
]

title_prefix = "WT/\u0394"
title_genes = ["csrA", "badR", "rpoS", "rpoN"]
x_ticks = [10, 100, 1000, 10000, 100000]
x_tick_labels = {10: "1e+01", 100: "", 1000: "1e+03", 10000: "", 100000: "1e+05"}
y_ticks = [-10, -5, 0, 5, 10]
y_tick_labels = {-10: "\u221210", -5: "\u22125", 0: "0", 5: "5", 10: "10"}

GRAY = "#525252"
RED = "#dd0000"
FONT = "Liberation Sans"


def title_div(gene, width, height, pad_left, frame_w, pad_top):
    html = ('<div style="font-family:\'Liberation Sans\',Arial,sans-serif;font-size:24px;'
            'line-height:22px;color:#000;text-align:center;white-space:nowrap;'
            f'padding-top:{pad_top}px;margin-left:{pad_left}px;width:{frame_w}px;">'
            f'{title_prefix}<i>{gene}</i></div>')
    return Div(text=html, width=width, height=height, margin=(0, 0, 0, 0))


def panel(nonsig, sig, width, height, mbl, mbr, mbb, xlog, ylim, tick_standoff, xlab_standoff):
    p = figure(width=width, height=height, x_axis_type="log",
               x_range=Range1d(10 ** xlog[0], 10 ** xlog[1]),
               y_range=Range1d(-ylim, ylim),
               output_backend="svg", toolbar_location=None,
               min_border_left=mbl, min_border_right=mbr,
               min_border_top=10, min_border_bottom=mbb,
               background_fill_color="white", border_fill_color="white",
               margin=(0, 0, 0, 0))
    p.grid.visible = False
    p.outline_line_color = "black"
    p.outline_line_width = 2
    p.outline_line_alpha = 1.0

    gx = [10 ** a for a, b in nonsig]
    gy = [b for a, b in nonsig]
    rx = [10 ** a for a, b in sig]
    ry = [b for a, b in sig]
    p.scatter(gx, gy, size=4.3, fill_color=GRAY, line_color=GRAY, line_width=0.3)
    p.scatter(rx, ry, size=4.3, fill_color=RED, line_color=RED, line_width=0.3)
    p.add_layout(Span(location=0, dimension="width", line_color="#ff0000",
                      line_alpha=0.5, line_width=6))

    for ax in (p.xaxis[0], p.yaxis[0]):
        ax.axis_line_color = "black"
        ax.axis_line_width = 2
        ax.major_tick_line_color = "black"
        ax.major_tick_line_width = 2
        ax.major_tick_out = 12
        ax.major_tick_in = 0
        ax.minor_tick_line_color = None
        ax.major_label_text_font = FONT
        ax.major_label_text_font_size = "20px"
        ax.major_label_text_color = "black"
        ax.axis_label_text_font = FONT
        ax.axis_label_text_font_size = "20px"
        ax.axis_label_text_font_style = "normal"
        ax.axis_label_text_color = "black"

    p.xaxis.ticker = FixedTicker(ticks=x_ticks)
    p.xaxis.major_label_overrides = x_tick_labels
    p.xaxis.axis_label = "mean of normalized counts"
    p.xaxis.major_label_standoff = tick_standoff
    p.xaxis.axis_label_standoff = xlab_standoff

    p.yaxis.ticker = FixedTicker(ticks=y_ticks)
    p.yaxis.major_label_overrides = y_tick_labels
    p.yaxis.major_label_orientation = "vertical"
    p.yaxis.axis_label = "log fold change"
    p.yaxis.major_label_standoff = 11
    p.yaxis.axis_label_standoff = 31
    return p


# top row: frames at y 67..352 ; bottom row: frames at y 572..856
d1 = title_div(title_genes[0], 488, 57, 106, 355, 8)
d2 = title_div(title_genes[1], 479, 57, 121, 355, 8)
d3 = title_div(title_genes[2], 488, 64, 106, 355, 15)
d4 = title_div(title_genes[3], 479, 64, 121, 355, 15)

p1 = panel(csra_nonsig, csra_sig, 488, 441, 106, 27, 146, (0.297, 5.9), 10.88, 15, 29)
p2 = panel(badr_nonsig, badr_sig, 479, 441, 121, 4, 146, (0.291, 5.866), 10.88, 15, 29)
p3 = panel(rpos_nonsig, rpos_sig, 488, 389, 106, 27, 95, (0.297, 5.9), 10.8, 15, 22)
p4 = panel(rpon_nonsig, rpon_sig, 479, 389, 121, 4, 95, (0.291, 5.866), 10.8, 15, 22)

layout = column(row(column(d1, p1), column(d2, p2)),
                row(column(d3, p3), column(d4, p4)))
open("out.html", "w").write(file_html(layout, INLINE))
